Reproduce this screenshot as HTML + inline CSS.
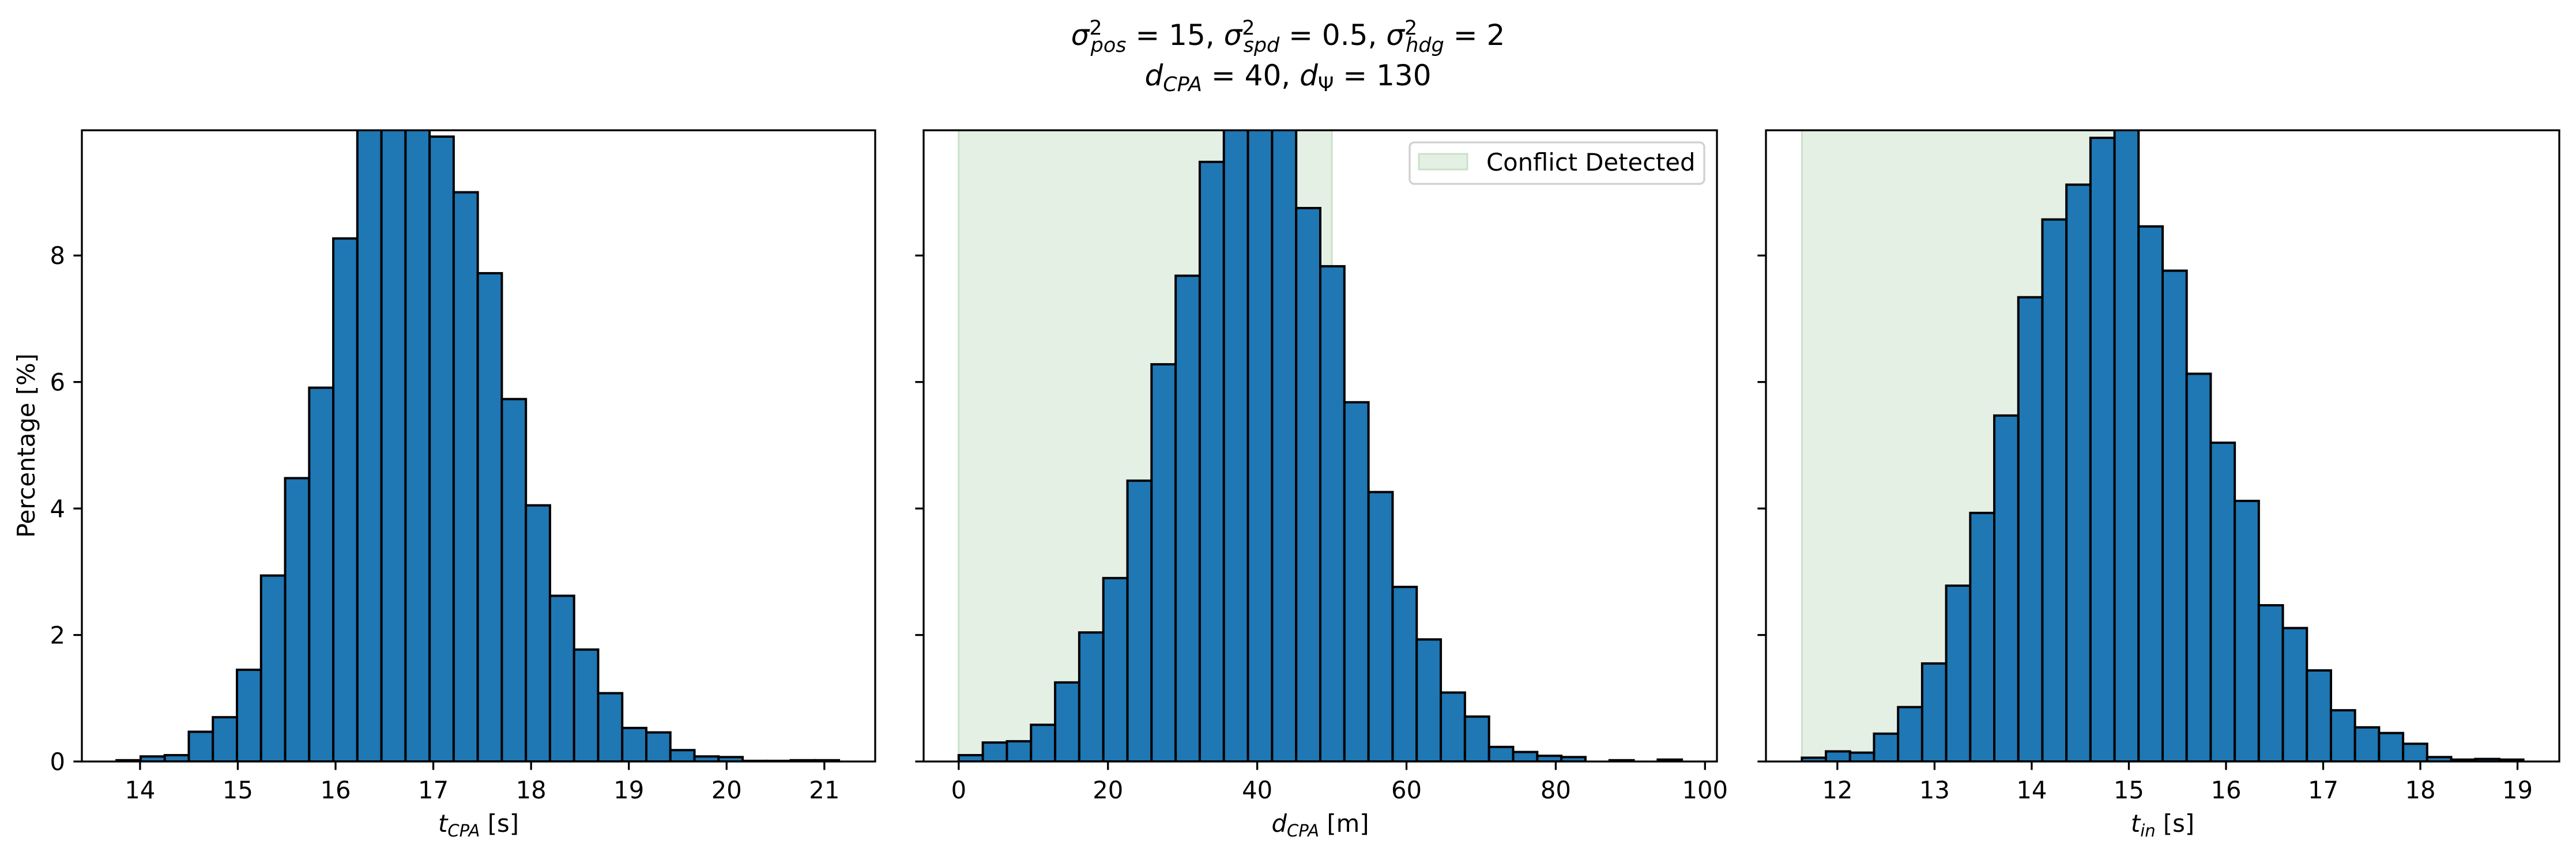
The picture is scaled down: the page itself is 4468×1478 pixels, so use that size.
<!DOCTYPE html>
<html><head><meta charset="utf-8"><style>
html,body{margin:0;padding:0;background:#fff}
svg{display:block;font-family:"DejaVu Sans","Liberation Sans",sans-serif}
</style></head><body>
<svg id="fig" width="4468" height="1478" viewBox="0 0 4468 1478" xmlns="http://www.w3.org/2000/svg">
<g font-size="50" text-anchor="middle">
<text x="2234" y="78"><tspan font-style="italic">σ</tspan><tspan font-size="35" dy="-18">2</tspan><tspan font-size="35" font-style="italic" dx="-20" dy="30">pos</tspan><tspan dy="-12"> = 15, </tspan><tspan font-style="italic">σ</tspan><tspan font-size="35" dy="-18">2</tspan><tspan font-size="35" font-style="italic" dx="-20" dy="30">spd</tspan><tspan dy="-12"> = 0.5, </tspan><tspan font-style="italic">σ</tspan><tspan font-size="35" dy="-18">2</tspan><tspan font-size="35" font-style="italic" dx="-20" dy="30">hdg</tspan><tspan dy="-12"> = 2</tspan></text>
<text x="2234" y="148"><tspan font-style="italic">d</tspan><tspan font-size="35" font-style="italic" dy="10">CPA</tspan><tspan dy="-10"> = 40, </tspan><tspan font-style="italic">d</tspan><tspan font-size="35" dy="10">Ψ</tspan><tspan dy="-10"> = 130</tspan></text>
</g>
<g id="plots"></g>
</svg>
<script>
// Panel 1: t_CPA
const tcpaStart = 13.76;
const tcpaWidth = 0.2463;
const tcpaValues = [0.02,0.08,0.1,0.47,0.70,1.45,2.94,4.48,5.91,8.27,10.4,10.6,10.3,9.88,9.0,7.72,5.73,4.05,2.62,1.77,1.08,0.53,0.46,0.18,0.08,0.07,0.01,0.01,0.02,0.02];
const tcpaTicks = [14,15,16,17,18,19,20,21];
// Panel 2: d_CPA
const dcpaStart = 0;
const dcpaWidth = 3.23;
const dcpaValues = [0.10,0.30,0.32,0.58,1.25,2.04,2.90,4.44,6.28,7.68,9.48,10.3,10.4,10.2,8.75,7.83,5.68,4.26,2.76,1.93,1.09,0.71,0.23,0.15,0.09,0.07,0,0.02,0,0.03];
const dcpaTicks = [0,20,40,60,80,100];
const dcpaConflict = [0,50];
// Panel 3: t_in
const tinStart = 11.635;
const tinWidth = 0.2475;
const tinValues = [0.06,0.16,0.14,0.44,0.86,1.55,2.78,3.93,5.47,7.34,8.57,9.12,9.86,10.2,8.46,7.76,6.13,5.04,4.12,2.47,2.11,1.44,0.81,0.54,0.45,0.28,0.07,0.03,0.04,0.03];
const tinTicks = [12,13,14,15,16,17,18,19];
const tinConflict = [11.635,14.95];
const yTicks = [0,2,4,6,8];
const yMax = 9.98;

const NS="http://www.w3.org/2000/svg";
const root=document.getElementById('plots');
function mk(tag,attrs,parent){const e=document.createElementNS(NS,tag);for(const k in attrs)e.setAttribute(k,attrs[k]);(parent||root).appendChild(e);return e;}
const TOP=226,BOT=1321;
function yS(v){return BOT-(v/yMax)*(BOT-TOP);}

function panel(id,L,R,xmin,xmax,start,width,values,ticks,conflict,showY,label){
  const g=mk('g',{});
  
  
  const xS=v=>L+(v-xmin)/(xmax-xmin)*(R-L);
  const clip=mk('clipPath',{id:'c'+id},g);
  mk('rect',{x:L,y:TOP,width:R-L,height:BOT-TOP},clip);
  const inner=mk('g',{'clip-path':'url(#c'+id+')'},g);
  if(conflict){
    const s=mk('rect',{x:xS(conflict[0]),y:TOP,width:xS(conflict[1])-xS(conflict[0]),height:BOT-TOP,fill:'#e5f0e5',stroke:'#c9e2c9','stroke-width':3},inner);
    
    
  }
  values.forEach((v,i)=>{
    const x0=xS(start+i*width),x1=xS(start+(i+1)*width);
    const b=mk('rect',{x:x0,y:yS(v),width:x1-x0,height:BOT-yS(v),fill:'#1f77b4',stroke:'#000','stroke-width':4},inner);
    
    
  });
  const fr=mk('rect',{x:L,y:TOP,width:R-L,height:BOT-TOP,fill:'none',stroke:'#000','stroke-width':3.3},g);
  
  
  ticks.forEach(t=>{
    const x=xS(t);
    mk('line',{x1:x,x2:x,y1:BOT,y2:BOT+14.6,stroke:'#000','stroke-width':3.3},g);
    const tx=mk('text',{x:x,y:BOT+64,'font-size':41.7,'text-anchor':'middle'},g);
    tx.textContent=t;
    
    
  });
  yTicks.forEach(t=>{
    const y=yS(t);
    mk('line',{x1:L-14.6,x2:L,y1:y,y2:y,stroke:'#000','stroke-width':3.3},g);
    if(showY){
      const tx=mk('text',{x:L-29,y:y+15,'font-size':41.7,'text-anchor':'end'},g);
      tx.textContent=t;
      
      
    }
  });
  const xl=mk('text',{x:(L+R)/2,y:1443,'font-size':41.7,'text-anchor':'middle'},g);
  xl.innerHTML=label;
  
  
}
panel('tcpa',142,1518,13.405,21.52,tcpaStart,tcpaWidth,tcpaValues,tcpaTicks,null,true,
 '<tspan font-style="italic">t</tspan><tspan font-size="29" font-style="italic" dy="8">CPA</tspan><tspan dy="-8"> [s]</tspan>');
panel('dcpa',1602,2978,-4.7,101.6,dcpaStart,dcpaWidth,dcpaValues,dcpaTicks,dcpaConflict,false,
 '<tspan font-style="italic">d</tspan><tspan font-size="29" font-style="italic" dy="8">CPA</tspan><tspan dy="-8"> [m]</tspan>');
panel('tin',3063,4439,11.265,19.43,tinStart,tinWidth,tinValues,tinTicks,tinConflict,false,
 '<tspan font-style="italic">t</tspan><tspan font-size="29" font-style="italic" dy="8">in</tspan><tspan dy="-8"> [s]</tspan>');

const yl=mk('text',{x:0,y:0,'font-size':41.7,'text-anchor':'middle',transform:'translate(60,773) rotate(-90)'});
yl.textContent='Percentage [%]';



const lg=mk('g',{});


mk('rect',{x:2445,y:247,width:511,height:72,rx:8,fill:'#fff','fill-opacity':0.8,stroke:'#d0d0d0','stroke-width':3.3},lg);
mk('rect',{x:2461,y:267,width:84,height:27,fill:'#e5f0e5',stroke:'#c9e2c9','stroke-width':3},lg);
const lt=mk('text',{x:2578,y:296,'font-size':41.7},lg);
lt.textContent='Conflict Detected';


</script>
</body></html>
